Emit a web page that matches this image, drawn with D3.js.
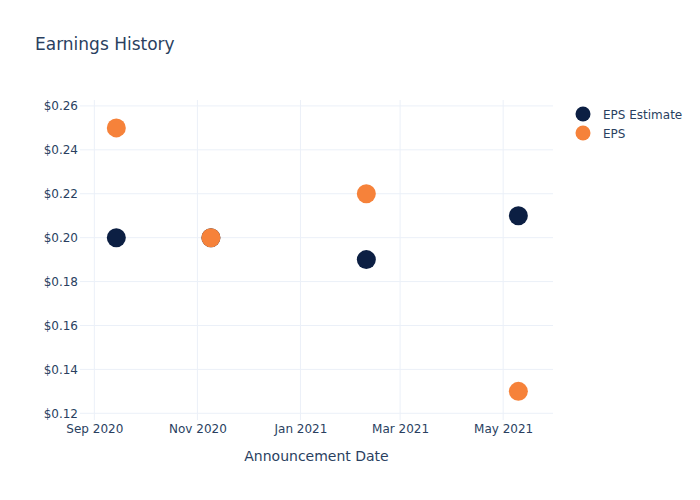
<!DOCTYPE html>
<html>
<head>
<meta charset="utf-8">
<script src="https://cdn.jsdelivr.net/npm/d3@7"></script>
<style>
  body { margin: 0; background: #fff; }
  text { font-family: verdana, "DejaVu Sans", arial, sans-serif; }
</style>
</head>
<body>
<svg id="chart" width="700" height="500"></svg>
<script>
const dates = ["2020-09-14", "2020-11-09", "2021-02-09", "2021-05-10"];
const epsEstimate = [0.20, 0.20, 0.19, 0.21];
const eps = [0.25, 0.20, 0.22, 0.13];
const seriesNames = ["EPS Estimate", "EPS"];
const seriesColors = ["#0c1f43", "#f6823a"];
const yTicks = [0.12, 0.14, 0.16, 0.18, 0.20, 0.22, 0.24, 0.26];
const xTicks = ["2020-09-01", "2020-11-01", "2021-01-01", "2021-03-01", "2021-05-01"];
const xDomain = ["2020-08-23T12:00", "2021-05-30T12:00"];
const yDomain = [0.11695, 0.2627];

const parse = d3.utcParse("%Y-%m-%d");
const parseT = d3.utcParse("%Y-%m-%dT%H:%M");
const svg = d3.select("#chart");
const m = {l: 80, r: 147, t: 100, b: 80};
const W = 700, H = 500;
const pw = W - m.l - m.r, ph = H - m.t - m.b;
const txtColor = "#2a3f5f";
const gridColor = "#ebf0f8";

const x = d3.scaleUtc().domain(xDomain.map(d => parseT(d))).range([m.l, m.l + pw]);
const y = d3.scaleLinear().domain(yDomain).range([m.t + ph, m.t]);

const g = svg.append("g");
// grid
g.selectAll(".vg").data(xTicks).join("line")
  .attr("x1", d => x(parse(d))).attr("x2", d => x(parse(d)))
  .attr("y1", m.t).attr("y2", m.t + ph)
  .attr("stroke", gridColor).attr("stroke-width", 1);
g.selectAll(".hg").data(yTicks).join("line")
  .attr("x1", m.l).attr("x2", m.l + pw)
  .attr("y1", d => y(d)).attr("y2", d => y(d))
  .attr("stroke", gridColor).attr("stroke-width", 1);

// axes
const xAxis = d3.axisBottom(x).tickValues(xTicks.map(parse)).tickSize(0).tickPadding(4)
  .tickFormat(d3.utcFormat("%b %Y"));
const xg = svg.append("g").attr("transform", `translate(0,${m.t + ph})`).call(xAxis);
xg.select(".domain").remove();
xg.selectAll("text").attr("fill", txtColor).style("font-size", "12px");

const yAxis = d3.axisLeft(y).tickValues(yTicks).tickSize(0).tickPadding(2)
  .tickFormat(d => "$" + d3.format(".2f")(d));
const yg = svg.append("g").attr("transform", `translate(${m.l},0)`).call(yAxis);
yg.select(".domain").remove();
yg.selectAll("text").attr("fill", txtColor).style("font-size", "12px");

// axis title
svg.append("text").attr("x", m.l + pw / 2).attr("y", 461).attr("text-anchor", "middle")
  .attr("fill", txtColor).style("font-size", "14px").text("Announcement Date");

// title
svg.append("text").attr("x", 35).attr("y", 50).attr("fill", txtColor)
  .style("font-size", "17px").text("Earnings History");

// points
const series = [epsEstimate, eps];
series.forEach((vals, i) => {
  svg.append("g").selectAll("circle").data(vals).join("circle")
    .attr("cx", (d, j) => x(parse(dates[j])))
    .attr("cy", d => y(d))
    .attr("r", 9.5)
    .attr("fill", seriesColors[i]);
});

// legend
const lg = svg.append("g");
seriesNames.forEach((n, i) => {
  lg.append("circle").attr("cx", 583).attr("cy", 114 + i * 19).attr("r", 7.5).attr("fill", seriesColors[i]);
  lg.append("text").attr("x", 603).attr("y", 118.5 + i * 19).attr("fill", txtColor)
    .style("font-size", "12px").text(n);
});
</script>
</body>
</html>
